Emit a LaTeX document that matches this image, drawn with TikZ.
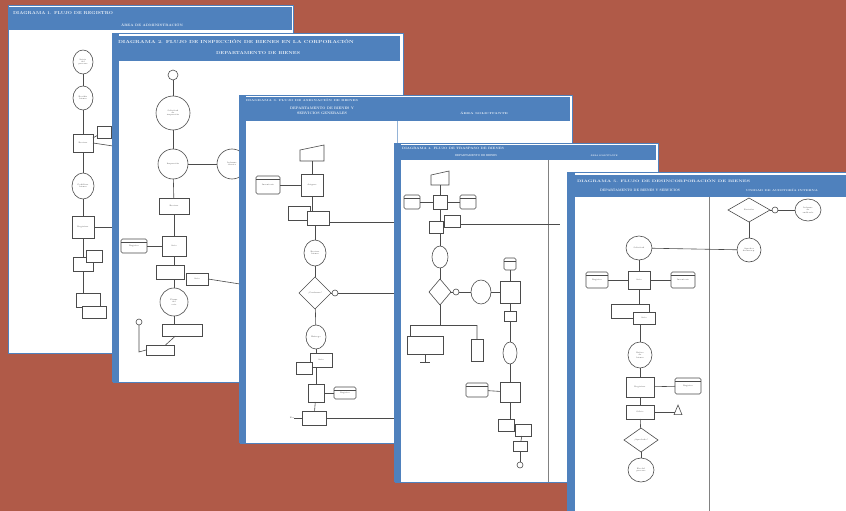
\documentclass[tikz,border=0pt]{standalone}
\usepackage{graphicx}
\usetikzlibrary{shapes.geometric}
\definecolor{brick}{RGB}{176,90,72}
\definecolor{ofblue}{RGB}{79,129,189}
\definecolor{ln}{RGB}{75,75,75}
\definecolor{hw}{RGB}{235,242,250}
\newcommand{\fitT}[3]{\resizebox{#1pt}{#2pt}{\bfseries #3}}
\begin{document}
\begin{tikzpicture}[x=1pt,y=-1pt,
  every node/.style={inner sep=0pt,outer sep=0pt},
  pg/.style={fill=white,draw=ofblue,line width=0.8pt},
  hdr/.style={fill=ofblue},
  ht/.style={text=hw},
  cn/.style={draw=ln,line width=0.6pt},
  nd/.style={draw=ln,line width=0.6pt,fill=white,font=\fontsize{2}{2.4}\selectfont,text=ln,align=center},
  proc/.style={nd,rectangle},
  term/.style={nd,ellipse},
  dec/.style={nd,diamond},
  docs/.style={nd,rectangle},
  dbs/.style={nd,rectangle,rounded corners=1.5pt,path picture={\draw[ln,line width=.5pt] ([yshift=-3pt]path picture bounding box.north west) -- ([yshift=-3pt]path picture bounding box.north east);}},
  sm/.style={nd,circle,minimum size=6pt},
  mi/.style={rectangle,draw=none}
]
\fill[brick] (0,0) rectangle (846,511);
\useasboundingbox (0,0) rectangle (846,511);

% ================= PAGE 1 =================
\draw[pg] (8,5) rectangle (293,353);
\fill[hdr] (9,7) rectangle (292,30);
\node[ht,anchor=west] (p1t) at (13,13) {\fitT{100}{3}{DIAGRAMA 1. FLUJO DE REGISTRO}};
\node[ht] (p1s) at (152,25) {\fitT{62}{3}{ÁREA DE ADMINISTRACIÓN}};
\node[term,minimum width=20pt,minimum height=24pt] (a1) at (83,62) {Inicio\\ del\\ proceso};
\node[term,minimum width=20pt,minimum height=24pt] (a2) at (83,98) {Recibir\\ bienes};
\node[proc,minimum width=20pt,minimum height=18pt] (a3) at (83,143) {Revisar};
\node[docs,minimum width=14pt,minimum height=12pt] (a3r) at (104,132) {};
\node[term,minimum width=22pt,minimum height=26pt] (a4) at (83,186) {Codificar\\ bienes};
\node[proc,minimum width=22pt,minimum height=22pt] (a5) at (83,227) {Registrar};
\node[docs,minimum width=20pt,minimum height=14pt] (a6) at (83,264) {};
\node[docs,minimum width=16pt,minimum height=12pt] (a6b) at (94,256) {};
\node[docs,minimum width=24pt,minimum height=14pt] (a7) at (88,300) {};
\node[docs,minimum width=24pt,minimum height=12pt] (a7b) at (94,312) {};
\coordinate (a5e) at (113,227);
\coordinate (a3e) at (113,146);
\draw[cn] (a1) -- (a2); \draw[cn] (a2) -- (a3); \draw[cn] (a3) -- (a4);
\draw[cn] (a4) -- (a5); \draw[cn] (a5) -- (a6); \draw[cn] (a6.south) -- (a6.south |- a7.north);
\draw[cn] (a3) -- (a3r); \draw[cn] (a3.east) -- (a3e); \draw[cn] (a5) -- (a5e);

% ================= PAGE 2 =================
\draw[pg] (113,33) rectangle (403,382);
\fill[ofblue] (112,33) rectangle (119,382);
\fill[hdr] (119,36) rectangle (400,61);
\node[ht] (p2t) at (236,42) {\fitT{236}{4}{DIAGRAMA 2. FLUJO DE INSPECCIÓN DE BIENES EN LA CORPORACIÓN}};
\node[ht] (p2s) at (258,53) {\fitT{84}{3}{DEPARTAMENTO DE BIENES}};
\node[sm,minimum size=10pt] (b0) at (173,75) {};
\node[term,minimum width=34pt,minimum height=34pt] (b1) at (173,113) {Solicitud\\ de\\ inspección};
\node[term,minimum width=30pt,minimum height=30pt] (b2) at (173,164) {Inspección};
\node[term,minimum width=30pt,minimum height=30pt] (b2r) at (232,164) {Informe\\ técnico};
\node[proc,minimum width=30pt,minimum height=16pt] (b3) at (174,206) {Revisar};
\node[proc,minimum width=24pt,minimum height=20pt] (b4) at (174,246) {Acta};
\node[dbs,minimum width=26pt,minimum height=14pt] (b4l) at (134,246) {Registro};
\node[docs,minimum width=28pt,minimum height=14pt] (b5) at (170,272) {};
\node[docs,minimum width=22pt,minimum height=12pt] (b5r) at (197,279) {Acta};
\node[term,minimum width=28pt,minimum height=28pt] (b6) at (174,302) {Firma\\ del\\ acta};
\node[docs,minimum width=40pt,minimum height=12pt] (b7) at (182,330) {};
\node[docs,minimum width=28pt,minimum height=10pt] (b8) at (160,350) {};
\node[sm,minimum size=6pt] (b9) at (139,322) {};
\coordinate (b5e) at (240,284);
\coordinate (b9d) at (139,352);
\draw[cn] (b0) -- (b1); \draw[cn] (b1) -- (b2); \draw[cn] (b2) -- (b2r);
\draw[cn] (b2) -- (b3); \draw[cn] (b3) -- (b4); \draw[cn] (b4l) -- (b4);
\draw[cn] (b4.south) -- (b4.south |- b5.north); \draw[cn] (b5r.east) -- (b5e);
\draw[cn] (b6.north) -- (b6.north |- b5.south);
\draw[cn] (b6.south) -- (b6.south |- b7.north); \draw[cn] (b7) -- (b8);
\draw[cn] (b9) -- (b9d) -- (b8.west);

% ================= PAGE 3 =================
\draw[pg] (240,95) rectangle (572,443);
\fill[ofblue] (239,95) rectangle (246,443);
\fill[hdr] (246,97) rectangle (570,121);
\node[ht,anchor=west] (p3t) at (246,100.5) {\fitT{112}{2.5}{DIAGRAMA 3. FLUJO DE ASIGNACIÓN DE BIENES}};
\node[ht] (p3a) at (322,108) {\fitT{64}{2.5}{DEPARTAMENTO DE BIENES Y}};
\node[ht] (p3b) at (322,113) {\fitT{50}{2.5}{SERVICIOS GENERALES}};
\node[ht] (p3c) at (484,113) {\fitT{48}{2.5}{ÁREA SOLICITANTE}};
\draw[ofblue!60!white,line width=0.5pt] (397,121) -- (397,443);
\node[mi,minimum width=24pt,minimum height=16pt] (c1) at (312,153) {};
\draw[cn,fill=white] (c1.south west) -- (c1.south east) -- (c1.north east) -- ([yshift=-5pt]c1.north west) -- cycle;
\node[proc,minimum width=22pt,minimum height=22pt] (c2) at (312,185) {Asignar};
\node[dbs,minimum width=24pt,minimum height=18pt] (c2l) at (268,185) {Inventario};
\node[docs,minimum width=22pt,minimum height=14pt] (c3) at (299,213) {};
\node[docs,minimum width=22pt,minimum height=14pt] (c3r) at (318,218) {};
\node[term,minimum width=22pt,minimum height=26pt] (c4) at (315,253) {Revisar\\ bienes};
\node[dec,minimum width=32pt,minimum height=32pt] (c5) at (315,293) {¿Conforme?};
\node[sm] (c5r) at (335,293) {};
\node[term,minimum width=20pt,minimum height=24pt] (c6) at (316,337) {Entrega};
\node[proc,minimum width=22pt,minimum height=14pt] (c7) at (321,360) {Acta};
\node[docs,minimum width=16pt,minimum height=12pt] (c7l) at (304,368) {};
\node[proc,minimum width=16pt,minimum height=18pt] (c8) at (316,393) {};
\node[dbs,minimum width=22pt,minimum height=12pt] (c8r) at (345,393) {Registro};
\node[docs,minimum width=24pt,minimum height=14pt] (c9) at (314,418) {};
\node[nd,draw=none,fill=none] (c9l) at (292,418) {Fin};
\coordinate (c3e) at (397,222);
\coordinate (c5e) at (397,293);
\coordinate (c9e) at (397,418);
\draw[cn] (c1) -- (c2); \draw[cn] (c2l) -- (c2); \draw[cn] (c2.south) -- (c2.south |- c3r.north);
\draw[cn] (c3r.east) |- (c3e); \draw[cn] (c4.north) -- (c4.north |- c3r.south); \draw[cn] (c4) -- (c5);
\draw[cn] (c5) -- (c5r); \draw[cn] (c5r) -- (c5e); \draw[cn] (c5) -- (c6);
\draw[cn] (c6.south) -- (c6.south |- c7.north); \draw[cn] (c8.north) -- (c8.north |- c7.south); \draw[cn] (c8) -- (c8r);
\draw[cn] (c8) -- (c9); \draw[cn] (c9l) -- (c9); \draw[cn] (c9.east) -- (c9e);

% ================= PAGE 4 =================
\draw[pg] (395,143) rectangle (658,482);
\fill[ofblue] (394,143) rectangle (401,482);
\fill[hdr] (401,145) rectangle (656,160);
\node[ht,anchor=west] (p4t) at (402,148) {\fitT{102}{2.2}{DIAGRAMA 4. FLUJO DE TRASPASO DE BIENES}};
\node[ht] (p4a) at (476,155.5) {\fitT{42}{2}{DEPARTAMENTO DE BIENES}};
\node[ht] (p4b) at (604,155.5) {\fitT{27}{2}{ÁREA SOLICITANTE}};
\draw[ln!70!white,line width=0.5pt] (548,160) -- (548,482);
\node[mi,minimum width=18pt,minimum height=14pt] (d1) at (440,178) {};
\draw[cn,fill=white] (d1.south west) -- (d1.south east) -- (d1.north east) -- ([yshift=-4pt]d1.north west) -- cycle;
\node[proc,minimum width=14pt,minimum height=14pt] (d2) at (440,202) {};
\node[dbs,minimum width=16pt,minimum height=14pt] (d2l) at (412,202) {};
\node[dbs,minimum width=16pt,minimum height=14pt] (d2r) at (468,202) {};
\node[docs,minimum width=14pt,minimum height=12pt] (d3) at (436,227) {};
\node[docs,minimum width=16pt,minimum height=12pt] (d3r) at (452,221) {};
\node[term,minimum width=16pt,minimum height=22pt] (d4) at (440,257) {};
\node[dec,minimum width=22pt,minimum height=26pt] (d5) at (440,292) {};
\node[sm] (d5r) at (456,292) {};
\node[term,minimum width=20pt,minimum height=24pt] (d6) at (481,292) {};
\node[proc,minimum width=20pt,minimum height=22pt] (d7) at (510,292) {};
\node[dbs,minimum width=12pt,minimum height=12pt] (d7t) at (510,264) {};
\node[proc,minimum width=12pt,minimum height=10pt] (d8) at (510,316) {};
\node[term,minimum width=14pt,minimum height=22pt] (d9) at (510,353) {};
\node[proc,minimum width=20pt,minimum height=20pt] (d10) at (510,392) {};
\node[dbs,minimum width=22pt,minimum height=14pt] (d10l) at (477,390) {};
\node[docs,minimum width=16pt,minimum height=12pt] (d11) at (506,425) {};
\node[docs,minimum width=16pt,minimum height=12pt] (d11r) at (523,430) {};
\node[docs,minimum width=14pt,minimum height=10pt] (d11b) at (520,446) {};
\node[sm] (d12) at (520,465) {};
\node[proc,minimum width=36pt,minimum height=18pt] (d13) at (425,345) {};
\node[nd,cylinder,shape border rotate=90,aspect=0.3,minimum width=12pt,minimum height=22pt] (d14) at (477,350) {};
\coordinate (d3e) at (560,224);
\coordinate (dbr) at (440,325);
\coordinate (dbl) at (410,325);
\coordinate (dbrr) at (477,325);
\coordinate (d13b) at (425,362);
\draw[cn] (d1) -- (d2); \draw[cn] (d2l) -- (d2); \draw[cn] (d2) -- (d2r);
\draw[cn] (d2.south) -- (d2.south |- d3.north); \draw[cn] (d3r.east) |- (d3e); \draw[cn] (d4.north) -- (d4.north |- d3.south);
\draw[cn] (d4) -- (d5); \draw[cn] (d5) -- (d5r); \draw[cn] (d5r) -- (d6);
\draw[cn] (d6) -- (d7); \draw[cn] (d7t) -- (d7); \draw[cn] (d7) -- (d8);
\draw[cn] (d8) -- (d9); \draw[cn] (d9) -- (d10); \draw[cn] (d10l) -- (d10);
\draw[cn] (d10.south) -- (d10.south |- d11.north); \draw[cn] (d11r) -- (d11b); \draw[cn] (d11b) -- (d12);
\draw[cn] (d5) -- (dbr); \draw[cn] (dbl) -- (dbrr);
\draw[cn] (dbl) -- (dbl |- d13.north); \draw[cn] (dbrr) -- (d14);
\draw[cn] (d13) -- (d13b); \draw[cn] ([xshift=-5pt]d13b) -- ([xshift=5pt]d13b);

% ================= PAGE 5 =================
\draw[pg] (568,172) rectangle (850,520);
\fill[ofblue] (567,172) rectangle (575,520);
\fill[hdr] (575,175) rectangle (846,197);
\node[ht,anchor=west] (p5t) at (577,181) {\fitT{173}{3.2}{DIAGRAMA 5. FLUJO DE DESINCORPORACIÓN DE BIENES}};
\node[ht] (p5a) at (640,190.5) {\fitT{80}{2.4}{DEPARTAMENTO DE BIENES Y SERVICIOS}};
\node[ht] (p5b) at (782,190.5) {\fitT{72}{2.4}{UNIDAD DE AUDITORÍA INTERNA}};
\draw[ln!70!white,line width=0.6pt] (709,197) -- (709,511);
\node[term,minimum width=26pt,minimum height=24pt] (e1) at (639,248) {Solicitud};
\node[dec,minimum width=42pt,minimum height=24pt] (e2) at (749,210) {Revisión};
\node[sm] (e2r) at (775,210) {};
\node[term,minimum width=26pt,minimum height=22pt] (e3) at (808,210) {Informe\\ de\\ auditoría};
\node[term,minimum width=24pt,minimum height=24pt] (e4) at (749,250) {Aprobar\\ desincorp.};
\node[proc,minimum width=22pt,minimum height=18pt] (e5) at (639,280) {Acta};
\node[dbs,minimum width=22pt,minimum height=16pt] (e5l) at (597,280) {Registro};
\node[dbs,minimum width=24pt,minimum height=16pt] (e5r) at (683,280) {Inventario};
\node[docs,minimum width=38pt,minimum height=14pt] (e6) at (630,311) {};
\node[docs,minimum width=22pt,minimum height=12pt] (e6b) at (644,318) {Acta};
\node[term,minimum width=24pt,minimum height=26pt] (e7) at (640,355) {Retiro\\ de\\ bienes};
\node[proc,minimum width=28pt,minimum height=20pt] (e8) at (640,387) {Registrar};
\node[dbs,minimum width=26pt,minimum height=16pt] (e8r) at (688,386) {Registro};
\node[proc,minimum width=28pt,minimum height=14pt] (e9) at (640,412) {Oficio};
\node[nd,isosceles triangle,shape border rotate=90,minimum width=8pt,minimum height=7pt] (e9r) at (678,412) {};
\node[dec,minimum width=34pt,minimum height=24pt] (e10) at (641,440) {¿Aprobado?};
\node[term,minimum width=26pt,minimum height=24pt] (e11) at (641,470) {Fin del\\ proceso};
\draw[cn] (e1) -- (e4); \draw[cn] (e2) -- (e2r); \draw[cn] (e2r) -- (e3);
\draw[cn] (e2) -- (e4); \draw[cn] (e1) -- (e5); \draw[cn] (e5l) -- (e5);
\draw[cn] (e5) -- (e5r); \draw[cn] (e5.south) -- (e5.south |- e6.north);
\draw[cn] (e7.north) -- (e7.north |- e6b.south);
\draw[cn] (e7) -- (e8); \draw[cn] (e8) -- (e8r); \draw[cn] (e8) -- (e9);
\draw[cn] (e9) -- (e9r); \draw[cn] (e9) -- (e10); \draw[cn] (e10) -- (e11);
\end{tikzpicture}
\end{document}
